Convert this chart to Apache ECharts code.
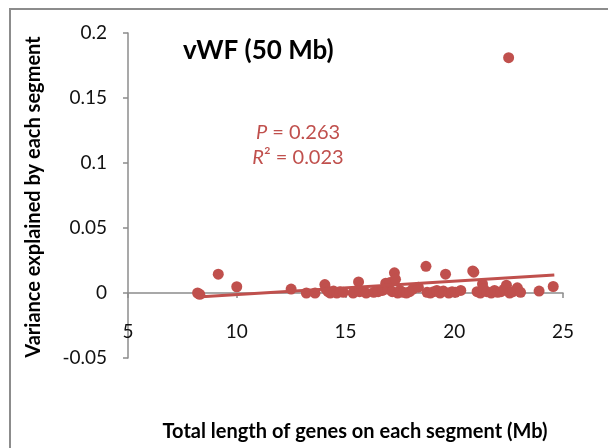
<!DOCTYPE html>
<html><head><meta charset="utf-8">
<script src="https://cdn.jsdelivr.net/npm/echarts@6/dist/echarts.min.js"></script>
<style>html,body{margin:0;padding:0;background:#fff}#c{width:608px;height:448px}</style>
</head><body><div id="c"></div>
<script>
const xValues = [8.2,8.3,9.15,10.0,12.5,13.2,13.6,14.05,14.1,14.2,14.3,14.45,14.6,14.75,14.9,15.35,15.6,15.65,15.95,16.3,16.5,16.7,16.85,16.95,17.05,17.15,17.25,17.3,17.4,17.5,17.65,17.8,17.95,18.1,18.35,18.7,18.75,18.9,19.05,19.2,19.35,19.5,19.6,19.75,19.9,20.05,20.3,20.85,20.9,21.05,21.2,21.3,21.35,21.5,21.7,21.85,22.0,22.15,22.3,22.4,22.5,22.55,22.7,22.9,23.05,23.9,24.55];
const yValues = [0.000,-0.001,0.0145,0.0048,0.0030,0.0000,0.0000,0.0065,0.0030,0.0010,0.0000,0.0015,0.0000,0.0010,0.0005,0.0000,0.0085,0.0010,0.0000,0.0005,0.0010,0.0020,0.0075,0.0030,0.0080,0.0010,0.0155,0.0105,0.0000,0.0020,0.0005,0.0000,0.0010,0.0030,0.0045,0.0205,0.0005,0.0000,0.0010,0.0020,0.0000,0.0015,0.0145,0.0000,0.0010,0.0005,0.0020,0.0170,0.0160,0.0010,0.0000,0.0070,0.0030,0.0010,0.0000,0.0020,0.0005,0.0010,0.0030,0.0060,0.1810,0.0000,0.0010,0.0040,0.0005,0.0015,0.0050];
const trendX = [8.2, 24.6];
const trendY = [-0.003, 0.0139];
const xTicks = {min: 5, max: 25, interval: 5};
const yTicks = {min: -0.05, max: 0.2, interval: 0.05};
const chartTitle = 'vWF (50 Mb)';
const statP = '0.263';
const statR2 = '0.023';
const xTitle = 'Total length of genes on each segment (Mb)';
const yTitle = 'Variance explained by each segment';

const red = '#c0504d';
const font = 'Lato, "Noto Sans", sans-serif';
const chart = echarts.init(document.getElementById('c'));
chart.setOption({
  animation: false,
  backgroundColor: '#fff',
  grid: {left: 128, right: 45, top: 33, bottom: 90},
  xAxis: {
    type: 'value', min: xTicks.min, max: xTicks.max, interval: xTicks.interval,
    axisLine: {onZero: true, lineStyle: {color: '#8c8c8c', width: 1.5}},
    axisTick: {show: true, inside: false, length: 5, lineStyle: {color: '#8c8c8c', width: 1.5}},
    axisLabel: {margin: -36, color: '#111', fontSize: 19, fontFamily: font},
    splitLine: {show: false}
  },
  yAxis: {
    type: 'value', min: yTicks.min, max: yTicks.max, interval: yTicks.interval,
    axisLine: {show: true, onZero: false, lineStyle: {color: '#8c8c8c', width: 1.5}},
    axisTick: {show: true, inside: false, length: 5, lineStyle: {color: '#8c8c8c', width: 1.5}},
    axisLabel: {margin: 21, color: '#111', fontSize: 19, fontFamily: font},
    splitLine: {show: false}
  },
  graphic: [
    {type: 'rect', shape: {x: 10, y: 9, width: 700, height: 600}, style: {fill: 'none', stroke: '#8c8c8c', lineWidth: 2}, silent: true, z: -1},
    {type: 'text', x: 183, y: 51, style: {text: chartTitle, font: 'bold 26px ' + font, fill: '#000', verticalAlign: 'middle'}},
    {type: 'text', x: 298, y: 133, style: {text: '{i|P} = ' + statP, rich: {i: {fontStyle: 'italic', fontSize: 20, fontFamily: font, fill: red}}, font: '20px ' + font, fill: red, align: 'center', verticalAlign: 'middle'}},
    {type: 'text', x: 298, y: 158, style: {text: '{i|R}\u00b2 = ' + statR2, rich: {i: {fontStyle: 'italic', fontSize: 20, fontFamily: font, fill: red}}, font: '20px ' + font, fill: red, align: 'center', verticalAlign: 'middle'}},
    {type: 'text', x: 355, y: 432, style: {text: xTitle, font: 'bold 20px ' + font, fill: '#000', align: 'center', verticalAlign: 'middle'}},
    {type: 'text', x: 34, y: 197, rotation: Math.PI / 2, style: {text: yTitle, font: 'bold 20px ' + font, fill: '#000', align: 'center', verticalAlign: 'middle'}}
  ],
  series: [
    {type: 'scatter', data: xValues.map((x, i) => [x, yValues[i]]), symbolSize: 11, itemStyle: {color: red, opacity: 1}, z: 3},
    {type: 'line', data: trendX.map((x, i) => [x, trendY[i]]), symbol: 'none', lineStyle: {color: red, width: 3}, z: 4}
  ]
});
</script></body></html>
